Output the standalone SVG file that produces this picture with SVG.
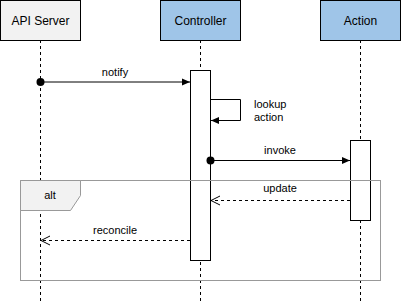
<svg xmlns="http://www.w3.org/2000/svg" width="401" height="301" viewBox="0 0 401 301">
<style>
text{font-family:"Liberation Sans",Arial,sans-serif;fill:#000}
.hd{font-size:12px;text-anchor:middle}
.lb{font-size:11px;text-anchor:middle}
.life{stroke:#000;stroke-dasharray:3 3;fill:none}
.box{stroke:#000;stroke-width:1}
.act{fill:#fff;stroke:#000}
.msg{stroke:#000;fill:none}
.ret{stroke:#000;fill:none;stroke-dasharray:3 3}
</style>
<defs>
<marker id="fill" markerWidth="10" markerHeight="10" refX="8" refY="4" orient="auto" markerUnits="userSpaceOnUse">
<path d="M0,0.5 L8,4 L0,7.5 Z" fill="#000"/>
</marker>
<marker id="open" markerWidth="12" markerHeight="12" refX="9" refY="5" orient="auto" markerUnits="userSpaceOnUse">
<path d="M0,0.5 L9,5 L0,9.5" fill="none" stroke="#000"/>
</marker>
</defs>
<rect width="401" height="301" fill="#fff"/>
<g id="api-server">
<line class="life" x1="40.5" y1="40" x2="40.5" y2="301"/>
<rect class="box" x="0.5" y="0.5" width="80" height="40" fill="#f2f2f2"/>
<text class="hd" x="40.5" y="24.5">API Server</text>
</g>
<g id="controller">
<line class="life" x1="200.5" y1="40" x2="200.5" y2="301"/>
<rect class="box" x="160.5" y="0.5" width="80" height="40" fill="#9fc5e8"/>
<text class="hd" x="200.5" y="24.5">Controller</text>
<rect class="act" x="190.5" y="70.5" width="20" height="190"/>
</g>
<g id="action">
<line class="life" x1="360.5" y1="40" x2="360.5" y2="301"/>
<rect class="box" x="320.5" y="0.5" width="80" height="40" fill="#9fc5e8"/>
<text class="hd" x="360.5" y="24.5">Action</text>
<rect class="act" x="350.5" y="140.5" width="20" height="80"/>
</g>
<g id="frame-alt">
<rect x="20.5" y="180.5" width="360" height="100" fill="none" stroke="#999"/>
<path d="M20.5,180.5 L80.5,180.5 L80.5,195.5 L70.5,210.5 L20.5,210.5 Z" fill="#f2f2f2" stroke="#999"/>
<text class="lb" x="50" y="199">alt</text>
</g>
<g id="connectors">
<circle cx="40.5" cy="82" r="4" fill="#000"/>
<line class="msg" x1="40.5" y1="82" x2="190" y2="82" marker-end="url(#fill)"/>
<text class="lb" x="115" y="76">notify</text>
<path class="msg" d="M210.5,99.5 L240.5,99.5 L240.5,120.5 L211,120.5" marker-end="url(#fill)"/>
<text x="254" y="107.5" font-size="11">lookup</text>
<text x="254" y="120.5" font-size="11">action</text>
<circle cx="210.5" cy="160.5" r="4" fill="#000"/>
<line class="msg" x1="210.5" y1="160.5" x2="350" y2="160.5" marker-end="url(#fill)"/>
<text class="lb" x="280" y="154">invoke</text>
<line class="ret" x1="350" y1="200.5" x2="211" y2="200.5" marker-end="url(#open)"/>
<text class="lb" x="280" y="192">update</text>
<line class="ret" x1="190" y1="240.5" x2="41" y2="240.5" marker-end="url(#open)"/>
<text class="lb" x="115" y="234">reconcile</text>
</g>
</svg>
